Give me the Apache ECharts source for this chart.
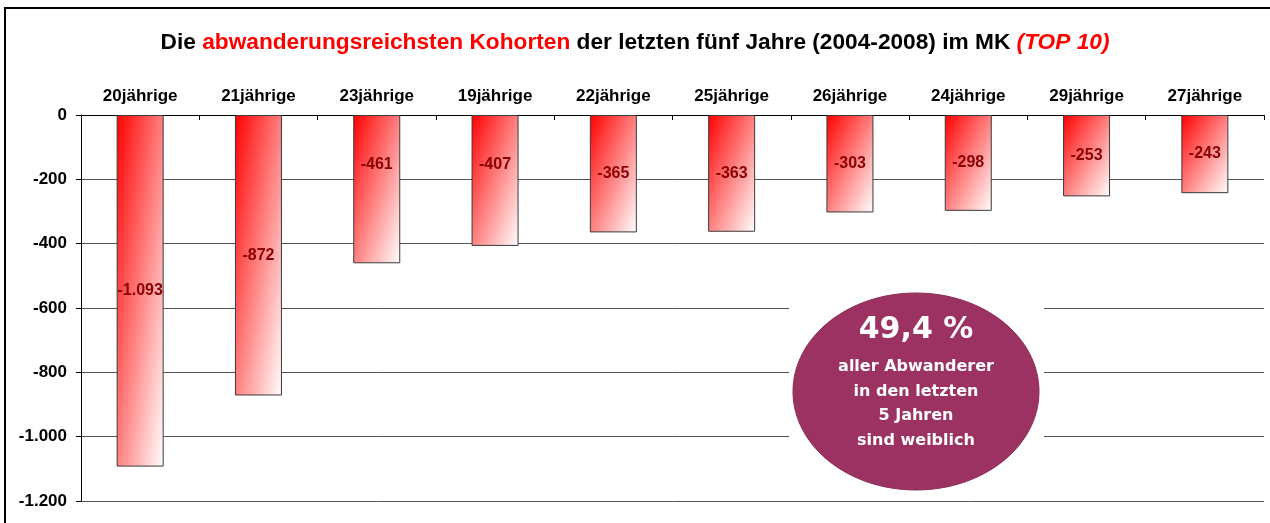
<!DOCTYPE html>
<html>
<head>
<meta charset="utf-8">
<script src="https://cdn.jsdelivr.net/npm/echarts@6/dist/echarts.min.js"></script>
<style>
  html, body { margin: 0; padding: 0; background: #fff; }
  #chart-container { width: 1270px; height: 523px; }
</style>
</head>
<body>
<div id="chart-container"></div>
<script>
const categories = ['20jährige', '21jährige', '23jährige', '19jährige', '22jährige',
    '25jährige', '26jährige', '24jährige', '29jährige', '27jährige'];
const values = [-1093, -872, -461, -407, -365, -363, -303, -298, -253, -243];
const yMin = -1200;
const yMax = 0;
const yStep = 200;
const bubbleLines = ['aller Abwanderer', 'in den letzten', '5 Jahren', 'sind weiblich'];
const bubbleHead = '49,4 %';

// a couple of labels sit higher than the bar middle in the original
const labelNudge = {2: -25, 3: -16};

const plotH = 386;   // px between 0 and -1.200
const barW = 47;

// german thousands separator
const fmt = v => {
    const s = String(Math.abs(v)).replace(/\B(?=(\d{3})+(?!\d))/g, '.');
    return (v < 0 ? '-' : '') + s;
};

// excel style diagonal gradient: colour follows x/w + y/h
function barGradient(v) {
    const h = Math.max(1, Math.abs(v) / (yMax - yMin) * plotH);
    const w = barW;
    const d = h * h + w * w;
    return new echarts.graphic.LinearGradient(0, 0, 2 * h * h / d, 2 * w * w / d, [
        {offset: 0, color: '#ff0000'},
        {offset: 1, color: '#ffffff'},
    ]);
}

const chart = echarts.init(document.getElementById('chart-container'), null, {renderer: 'canvas'});

const font = '"Liberation Sans", Arial, sans-serif';
const bubbleFont = '"DejaVu Sans", Verdana, sans-serif';

const seriesData = values.map((v, i) => {
    const item = {value: v};
    if (labelNudge[i]) {
        item.label = {offset: [0, labelNudge[i]]};
    }
    return item;
});

const graphics = [
    {
        type: 'rect', z: 100, silent: true,
        shape: {x: 5, y: 8, width: 1300, height: 600},
        style: {fill: 'none', stroke: '#000', lineWidth: 2},
    },
    {
        type: 'rect', z: 50, silent: true,
        shape: {x: 789, y: 289, width: 255, height: 206},
        style: {fill: '#fff'},
    },
    {
        type: 'ellipse', z: 51, silent: true,
        shape: {cx: 916, cy: 391.5, rx: 123, ry: 98.5},
        style: {fill: '#9b3262', stroke: '#8a2a56', lineWidth: 1},
    },
    {
        type: 'text', z: 52, silent: true, x: 916, y: 330,
        style: {text: bubbleHead, fill: '#fff', font: 'bold 30px ' + bubbleFont,
            align: 'center', verticalAlign: 'middle'},
    },
];
bubbleLines.forEach((t, i) => {
    graphics.push({
        type: 'text', z: 52, silent: true, x: 916, y: 367 + i * 24.5,
        style: {text: t, fill: '#fff', font: 'bold 16px ' + bubbleFont,
            align: 'center', verticalAlign: 'middle'},
    });
});

chart.setOption({
    animation: false,
    title: {
        left: 'center',
        top: 29,
        padding: 0,
        text: '{b|Die }{r|abwanderungsreichsten Kohorten}{b| der letzten fünf Jahre (2004-2008) im MK }{ri|(TOP 10)}',
        textStyle: {
            rich: {
                b: {fontFamily: font, fontWeight: 'bold', fontSize: 22.7, color: '#000', lineHeight: 28},
                r: {fontFamily: font, fontWeight: 'bold', fontSize: 22.7, color: '#ff0000', lineHeight: 28},
                ri: {fontFamily: font, fontWeight: 'bold', fontStyle: 'italic', fontSize: 22.7, color: '#ff0000', lineHeight: 28},
            },
        },
    },
    grid: {left: 81, right: 6, top: 115, bottom: 22, containLabel: false},
    xAxis: {
        type: 'category',
        position: 'top',
        data: categories,
        axisLine: {show: true, onZero: false, lineStyle: {color: '#000', width: 1}},
        axisTick: {show: true, inside: true, length: 5, lineStyle: {color: '#000'}},
        axisLabel: {
            margin: 10, color: '#000', fontFamily: font, fontWeight: 'bold', fontSize: 17,
        },
        splitLine: {show: false},
    },
    yAxis: {
        type: 'value',
        min: yMin,
        max: yMax,
        interval: yStep,
        axisLine: {show: true, lineStyle: {color: '#000', width: 1}},
        axisTick: {show: true, length: 5, lineStyle: {color: '#000'}},
        axisLabel: {
            margin: 14, color: '#000', fontFamily: font, fontWeight: 'bold', fontSize: 17,
            formatter: fmt,
        },
        splitLine: {show: true, lineStyle: {color: '#555', width: 1}},
    },
    series: [{
        type: 'bar',
        data: seriesData,
        barWidth: barW,
        itemStyle: {
            color: p => barGradient(p.value),
            borderColor: '#3a3a3a',
            borderWidth: 1,
        },
        label: {
            show: true,
            position: 'inside',
            color: '#8b0000',
            fontFamily: font,
            fontWeight: 'bold',
            fontSize: 16,
            formatter: p => fmt(p.value),
        },
    }],
    graphic: graphics,
});
</script>
</body>
</html>
